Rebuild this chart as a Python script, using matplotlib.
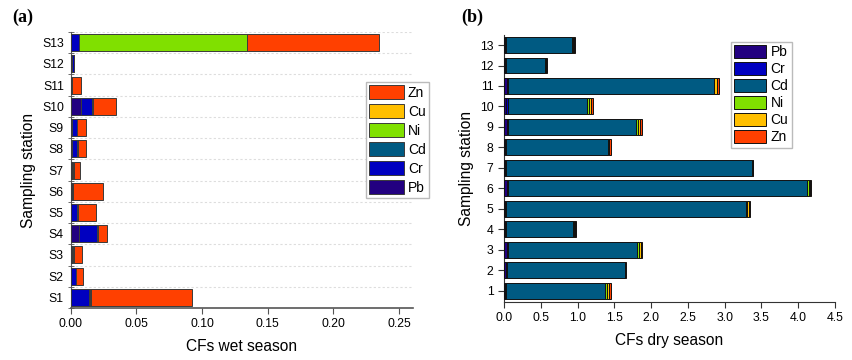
import numpy as np
import matplotlib.pyplot as plt
from matplotlib.ticker import MultipleLocator

plt.rcParams['font.family'] = ['Liberation Sans', 'DejaVu Sans']

metals = ['Pb', 'Cr', 'Cd', 'Ni', 'Cu', 'Zn']
colors = {'Pb': '#220080', 'Cr': '#0000c0', 'Cd': '#005a82',
          'Ni': '#80e000', 'Cu': '#ffbf00', 'Zn': '#ff4000'}

# wet season, stations S1..S13
wet_labels = ['S1', 'S2', 'S3', 'S4', 'S5', 'S6', 'S7', 'S8', 'S9', 'S10', 'S11', 'S12', 'S13']
wet_pb = [0.0005, 0.0004, 0.0006, 0.0065, 0.0005, 0.0012, 0.0008, 0.0006, 0.0008, 0.0078, 0.0005, 0.0012, 0.0005]
wet_cr = [0.0135, 0.0034, 0.0002, 0.0135, 0.0040, 0.0003, 0.0004, 0.0040, 0.0038, 0.0087, 0.0002, 0.0010, 0.0055]
wet_cd = [0.0003, 0.0002, 0.0006, 0.0002, 0.0003, 0.0002, 0.0005, 0.0004, 0.0002, 0.0001, 0.0002, 0.0001, 0.0003]
wet_ni = [0.0004, 0.0002, 0.0006, 0.0001, 0.0002, 0.0002, 0.0004, 0.0003, 0.0001, 0.0001, 0.0001, 0.0001, 0.1277]
wet_cu = [0.0008, 0.0002, 0.0003, 0.0002, 0.0002, 0.0002, 0.0003, 0.0002, 0.0002, 0.0001, 0.0001, 0.0001, 0.0002]
wet_zn = [0.0770, 0.0050, 0.0063, 0.0072, 0.0138, 0.0224, 0.0048, 0.0062, 0.0069, 0.0177, 0.0067, 0.0000, 0.1004]

# dry season, stations 1..13
dry_labels = ['1', '2', '3', '4', '5', '6', '7', '8', '9', '10', '11', '12', '13']
dry_pb = [0.02, 0.03, 0.04, 0.02, 0.02, 0.04, 0.02, 0.02, 0.04, 0.03, 0.04, 0.02, 0.02]
dry_cr = [0.01, 0.01, 0.02, 0.01, 0.01, 0.02, 0.01, 0.01, 0.02, 0.02, 0.01, 0.01, 0.01]
dry_cd = [1.35, 1.60, 1.75, 0.91, 3.26, 4.065, 3.34, 1.38, 1.73, 1.08, 2.80, 0.53, 0.90]
dry_ni = [0.02, 0.005, 0.03, 0.01, 0.02, 0.02, 0.005, 0.01, 0.03, 0.025, 0.01, 0.005, 0.01]
dry_cu = [0.03, 0.005, 0.02, 0.02, 0.02, 0.015, 0.005, 0.01, 0.03, 0.025, 0.03, 0.01, 0.01]
dry_zn = [0.02, 0.01, 0.02, 0.01, 0.01, 0.01, 0.01, 0.025, 0.02, 0.025, 0.04, 0.01, 0.017]

wet = dict(zip(metals, [wet_pb, wet_cr, wet_cd, wet_ni, wet_cu, wet_zn]))
dry = dict(zip(metals, [dry_pb, dry_cr, dry_cd, dry_ni, dry_cu, dry_zn]))

fig = plt.figure(figsize=(8.52, 3.6), dpi=100)

# ---- (a) wet season
ax1 = fig.add_axes([0.083, 0.1444, 0.4014, 0.7666])
y = np.arange(len(wet_labels))
left = np.zeros(len(y))
for m in metals:
    ax1.barh(y, wet[m], left=left, height=0.8, color=colors[m],
             edgecolor='#3a3a3a', linewidth=0.7, label=m, zorder=3)
    left += np.array(wet[m])
ax1.set_ylim(-0.5, 12.5)
ax1.set_xlim(0, 0.2603)
ax1.set_yticks(y)
ax1.set_yticklabels(wet_labels)
ax1.yaxis.set_minor_locator(MultipleLocator(1, offset=0.5))
ax1.tick_params(axis='y', which='major', length=0, labelsize=8.8, pad=5)
ax1.tick_params(axis='y', which='minor', direction='inout', length=4, color='#555555')
ax1.set_xticks([0, 0.05, 0.10, 0.15, 0.20, 0.25])
ax1.set_xticklabels(['0.00', '0.05', '0.10', '0.15', '0.20', '0.25'])
ax1.tick_params(axis='x', direction='out', length=4, labelsize=8.8, color='#555555')
ax1.grid(axis='y', which='minor', linestyle=(0, (2, 2)), color='#dddddd', linewidth=0.8, zorder=0)
ax1.spines['top'].set_visible(False)
ax1.spines['right'].set_visible(False)
ax1.spines['left'].set_color('#555555')
ax1.spines['bottom'].set_color('#555555')
ax1.spines['bottom'].set_linewidth(1.2)
ax1.set_xlabel('CFs wet season', fontsize=11.2, labelpad=6)
ax1.set_ylabel('Sampling station', fontsize=11.2, labelpad=4)
h, l = ax1.get_legend_handles_labels()
ax1.legend(h[::-1], l[::-1], loc='upper left', bbox_to_anchor=(0.862, 0.82),
           fontsize=10, handlelength=2.5, handleheight=1.15, labelspacing=0.32,
           handletextpad=0.3, borderpad=0.25, borderaxespad=0, fancybox=False,
           edgecolor='#bbbbbb', framealpha=1)
fig.text(0.014, 0.94, '(a)', fontsize=13, fontweight='bold', family='Liberation Serif')

# ---- (b) dry season
ax2 = fig.add_axes([0.5915, 0.1611, 0.3885, 0.7417])
y2 = np.arange(1, len(dry_labels) + 1)
left = np.zeros(len(y2))
for m in metals:
    ax2.barh(y2, dry[m], left=left, height=0.78, color=colors[m],
             edgecolor='#111111', linewidth=0.7, label=m, zorder=3)
    left += np.array(dry[m])
ax2.set_ylim(0.45, 13.49)
ax2.set_xlim(0, 4.5)
ax2.set_yticks(y2)
ax2.set_yticklabels(dry_labels)
ax2.set_xticks(np.arange(0, 4.51, 0.5))
ax2.tick_params(axis='both', direction='out', length=4, labelsize=8.8, color='#333333')
ax2.spines['top'].set_visible(False)
ax2.spines['right'].set_visible(False)
ax2.spines['left'].set_color('#333333')
ax2.spines['bottom'].set_color('#333333')
ax2.set_xlabel('CFs dry season', fontsize=11.2, labelpad=6)
ax2.set_ylabel('Sampling station', fontsize=11.2, labelpad=4)
ax2.legend(loc='upper left', bbox_to_anchor=(0.686, 0.975),
           fontsize=10, handlelength=2.3, handleheight=1.05, labelspacing=0.2,
           handletextpad=0.3, borderpad=0.25, borderaxespad=0, fancybox=False,
           edgecolor='#bbbbbb', framealpha=1)
fig.text(0.541, 0.94, '(b)', fontsize=13, fontweight='bold', family='Liberation Serif')

fig.savefig('out.png', dpi=100)
